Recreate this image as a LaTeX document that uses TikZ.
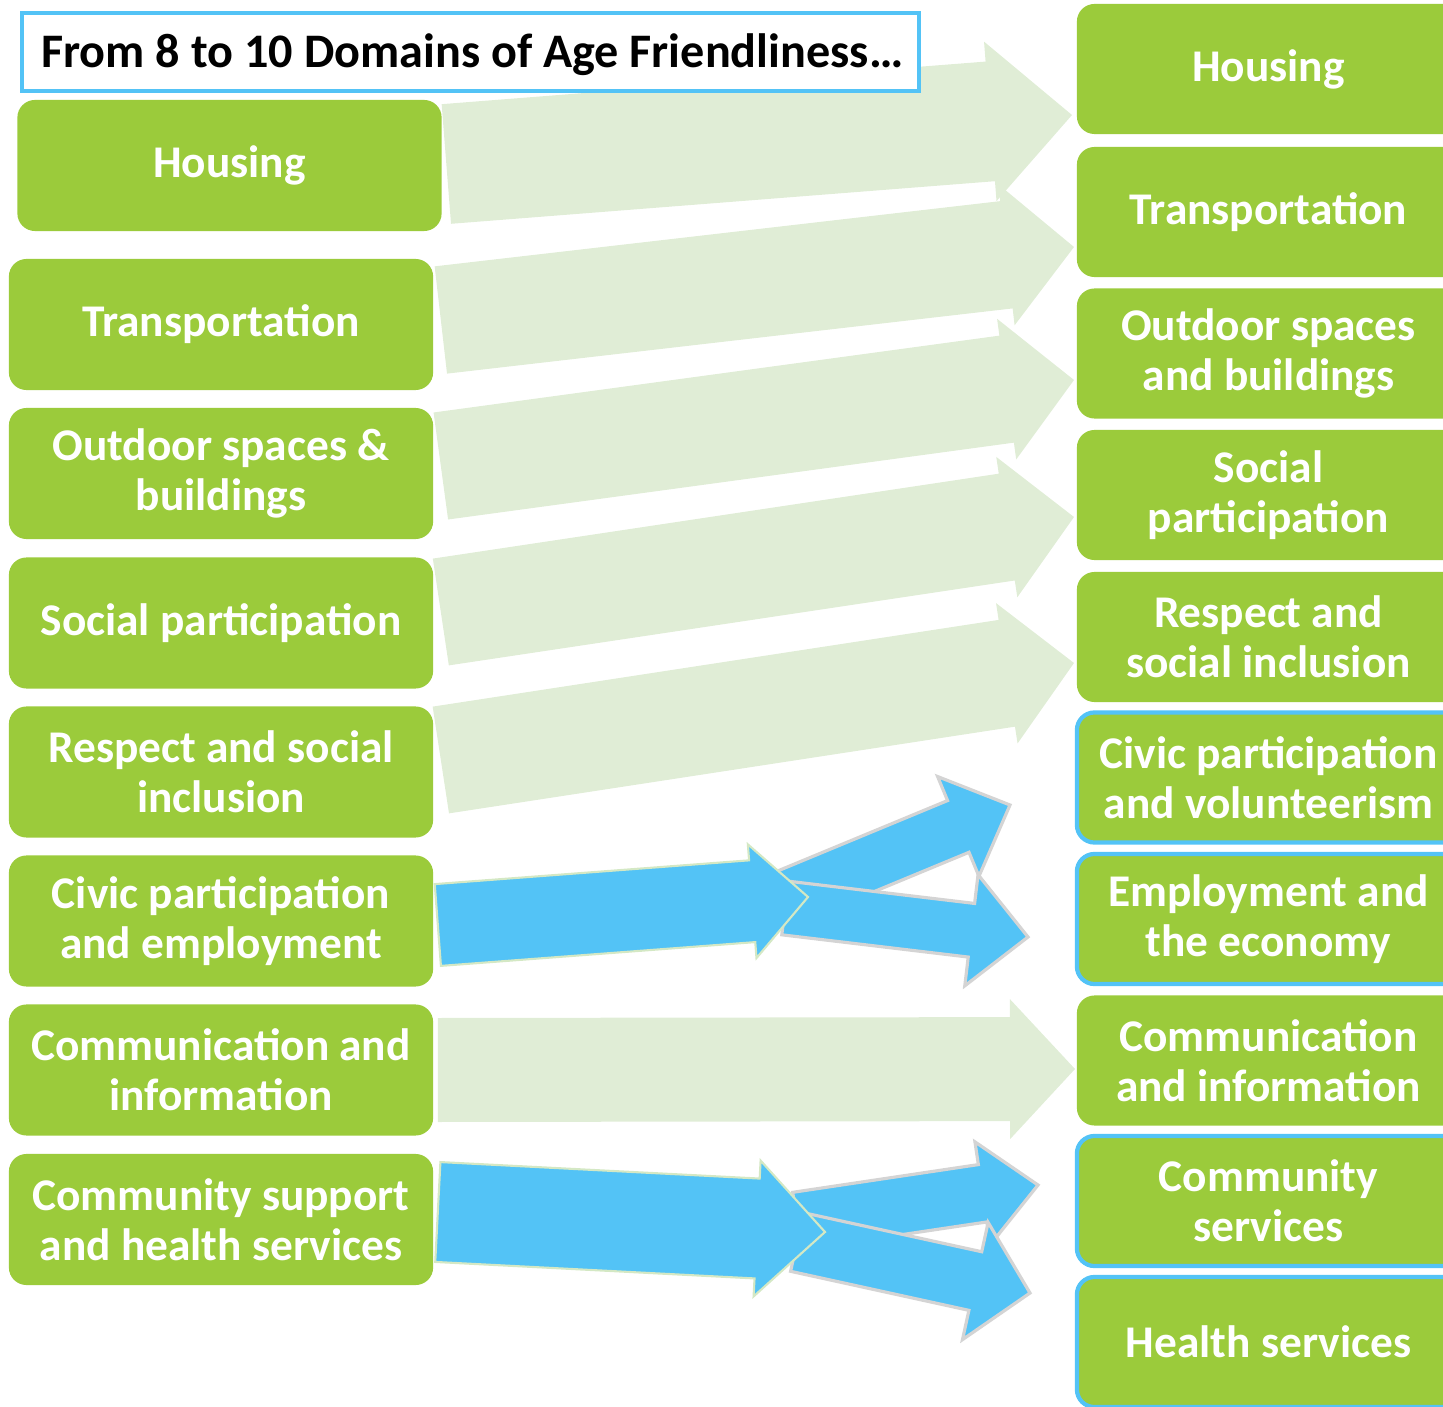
\documentclass[tikz,border=0pt]{standalone}
\usepackage{fontspec}
\setmainfont{Carlito}
\usetikzlibrary{calc}

\definecolor{domgreen}{RGB}{155,203,59}
\definecolor{palegreen}{RGB}{224,237,214}
\definecolor{skyblue}{RGB}{83,195,246}
\definecolor{edgegray}{RGB}{212,212,212}
\definecolor{edgegreen}{RGB}{212,232,196}

\tikzset{
  oldbox/.style={rectangle, fill=domgreen, rounded corners=5pt, inner sep=0pt,
    minimum width=4.24cm, minimum height=1.31cm, align=center, text=white,
    font=\fontsize{12.9}{14.2}\selectfont\bfseries},
  newbox/.style={oldbox, minimum width=3.83cm, minimum height=1.30cm},
  splitbox/.style={newbox, draw=skyblue, line width=1.2pt},
  titlebox/.style={rectangle, fill=white, draw=skyblue, line width=1.2pt,
    minimum width=8.97cm, minimum height=0.78cm},
  titletext/.style={anchor=west, inner sep=0pt, font=\fontsize{13.7}{16}\selectfont\bfseries},
  fadearrow/.style={fill=palegreen},
  mainblue/.style={fill=skyblue, draw=edgegreen, line width=0.6pt},
  splitblue/.style={fill=skyblue, draw=edgegray, line width=0.9pt}
}

% block arrow: [style]{tail}{tip}{body half width}{head half width}{head length}
\newcommand{\bigarrow}[6][]{%
  \coordinate (neck) at ($(#3)!#6*0.01cm!(#2)$);
  \path[#1] ($(#2)!#4*0.01cm!90:(#3)$) -- ($(neck)!#4*0.01cm!90:(#3)$)
    -- ($(neck)!#5*0.01cm!90:(#3)$) -- (#3)
    -- ($(neck)!#5*0.01cm!-90:(#3)$) -- ($(neck)!#4*0.01cm!-90:(#3)$)
    -- ($(#2)!#4*0.01cm!-90:(#3)$) -- cycle;
}

\begin{document}
\begin{tikzpicture}[x=0.01cm,y=-0.01cm]
\useasboundingbox (0,0) rectangle (1443,1407);
\clip (0,0) rectangle (1443,1407);

% the eight old domains
\node[oldbox] (lhou) at (229.5,165.5) {Housing};
\node[oldbox] (ltra) at (221,324.5) {Transportation};
\node[oldbox] (lout) at (221,473.5) {Outdoor spaces \&\\buildings};
\node[oldbox] (lsoc) at (221,623) {Social participation};
\node[oldbox] (lres) at (221,772) {Respect and social\\inclusion};
\node[oldbox] (lciv) at (221,921) {Civic participation\\and employment};
\node[oldbox] (lcom) at (221,1070) {Communication and\\information};
\node[oldbox] (lcsu) at (221,1219.5) {Community support\\and health services};

% the ten new domains
\node[newbox] (rhou) at (1268.5,69) {Housing};
\node[newbox] (rtra) at (1268.5,212) {Transportation};
\node[newbox] (rout) at (1268.5,353.5) {Outdoor spaces\\and buildings};
\node[newbox] (rsoc) at (1268.5,495) {Social\\participation};
\node[newbox] (rres) at (1268.5,637) {Respect and\\social inclusion};
\node[splitbox] (rciv) at (1268.5,777.5) {Civic participation\\and volunteerism};
\node[splitbox] (remp) at (1268.5,919) {Employment and\\the economy};
\node[newbox] (rcom) at (1268.5,1060.5) {Communication\\and information};
\node[splitbox] (rcse) at (1268.5,1201) {Community\\services};
\node[splitbox] (rhea) at (1268.5,1342) {Health services};

% unchanged domains
\coordinate (s1) at ($(lhou.east)+(4,-1.5)$);
\coordinate (s2) at ($(ltra.east)+(7,-4.5)$);
\coordinate (s3) at ($(lout.east)+(7,-7.5)$);
\coordinate (s4) at ($(lsoc.east)+(7,-11)$);
\coordinate (s5) at ($(lres.east)+(7,-12)$);
\coordinate (s7) at ($(lcom.east)+(4,0)$);
\coordinate (e1) at (1072,115);
\coordinate (e2) at (1074,247);
\coordinate (e3) at (1074,380);
\coordinate (e4) at (1074,517);
\coordinate (e5) at (1074,663);
\coordinate (e7) at (1075,1069);
\bigarrow[fadearrow]{s1}{e1}{60}{80}{82}
\bigarrow[fadearrow]{s2}{e2}{54}{71}{68}
\bigarrow[fadearrow]{s3}{e3}{54}{71}{68}
\bigarrow[fadearrow]{s4}{e4}{54}{71}{68}
\bigarrow[fadearrow]{s5}{e5}{54}{71}{68}
\bigarrow[fadearrow]{s7}{e7}{52}{70}{65}

% split domains
\coordinate (s6) at ($(lciv.east)+(4,4)$);
\coordinate (e6) at (808,897);
\coordinate (c6a) at (788,897);
\coordinate (c6b) at (785,908);
\coordinate (e6a) at (1010,805);
\coordinate (e6b) at (1028,937);
\bigarrow[splitblue]{c6a}{e6a}{28}{54}{56}
\bigarrow[splitblue]{c6b}{e6b}{27}{56}{57}
\bigarrow[mainblue]{s6}{e6}{41}{57}{56}

\coordinate (s8) at ($(lcsu.east)+(4,-7.5)$);
\coordinate (e8) at (825,1232);
\coordinate (c8a) at (797,1221);
\coordinate (c8b) at (797,1242);
\coordinate (e8a) at (1038,1185);
\coordinate (e8b) at (1030,1293);
\bigarrow[splitblue]{c8a}{e8a}{29}{52}{56}
\bigarrow[splitblue]{c8b}{e8b}{30}{60}{56}
\bigarrow[mainblue]{s8}{e8}{50}{68}{68}

\node[titlebox] (title) at (470.5,52) {};
\node[titletext] (titletxt) at ($(title.west)+(21,3)$) {From 8 to 10 Domains of Age Friendliness…};
\end{tikzpicture}
\end{document}
